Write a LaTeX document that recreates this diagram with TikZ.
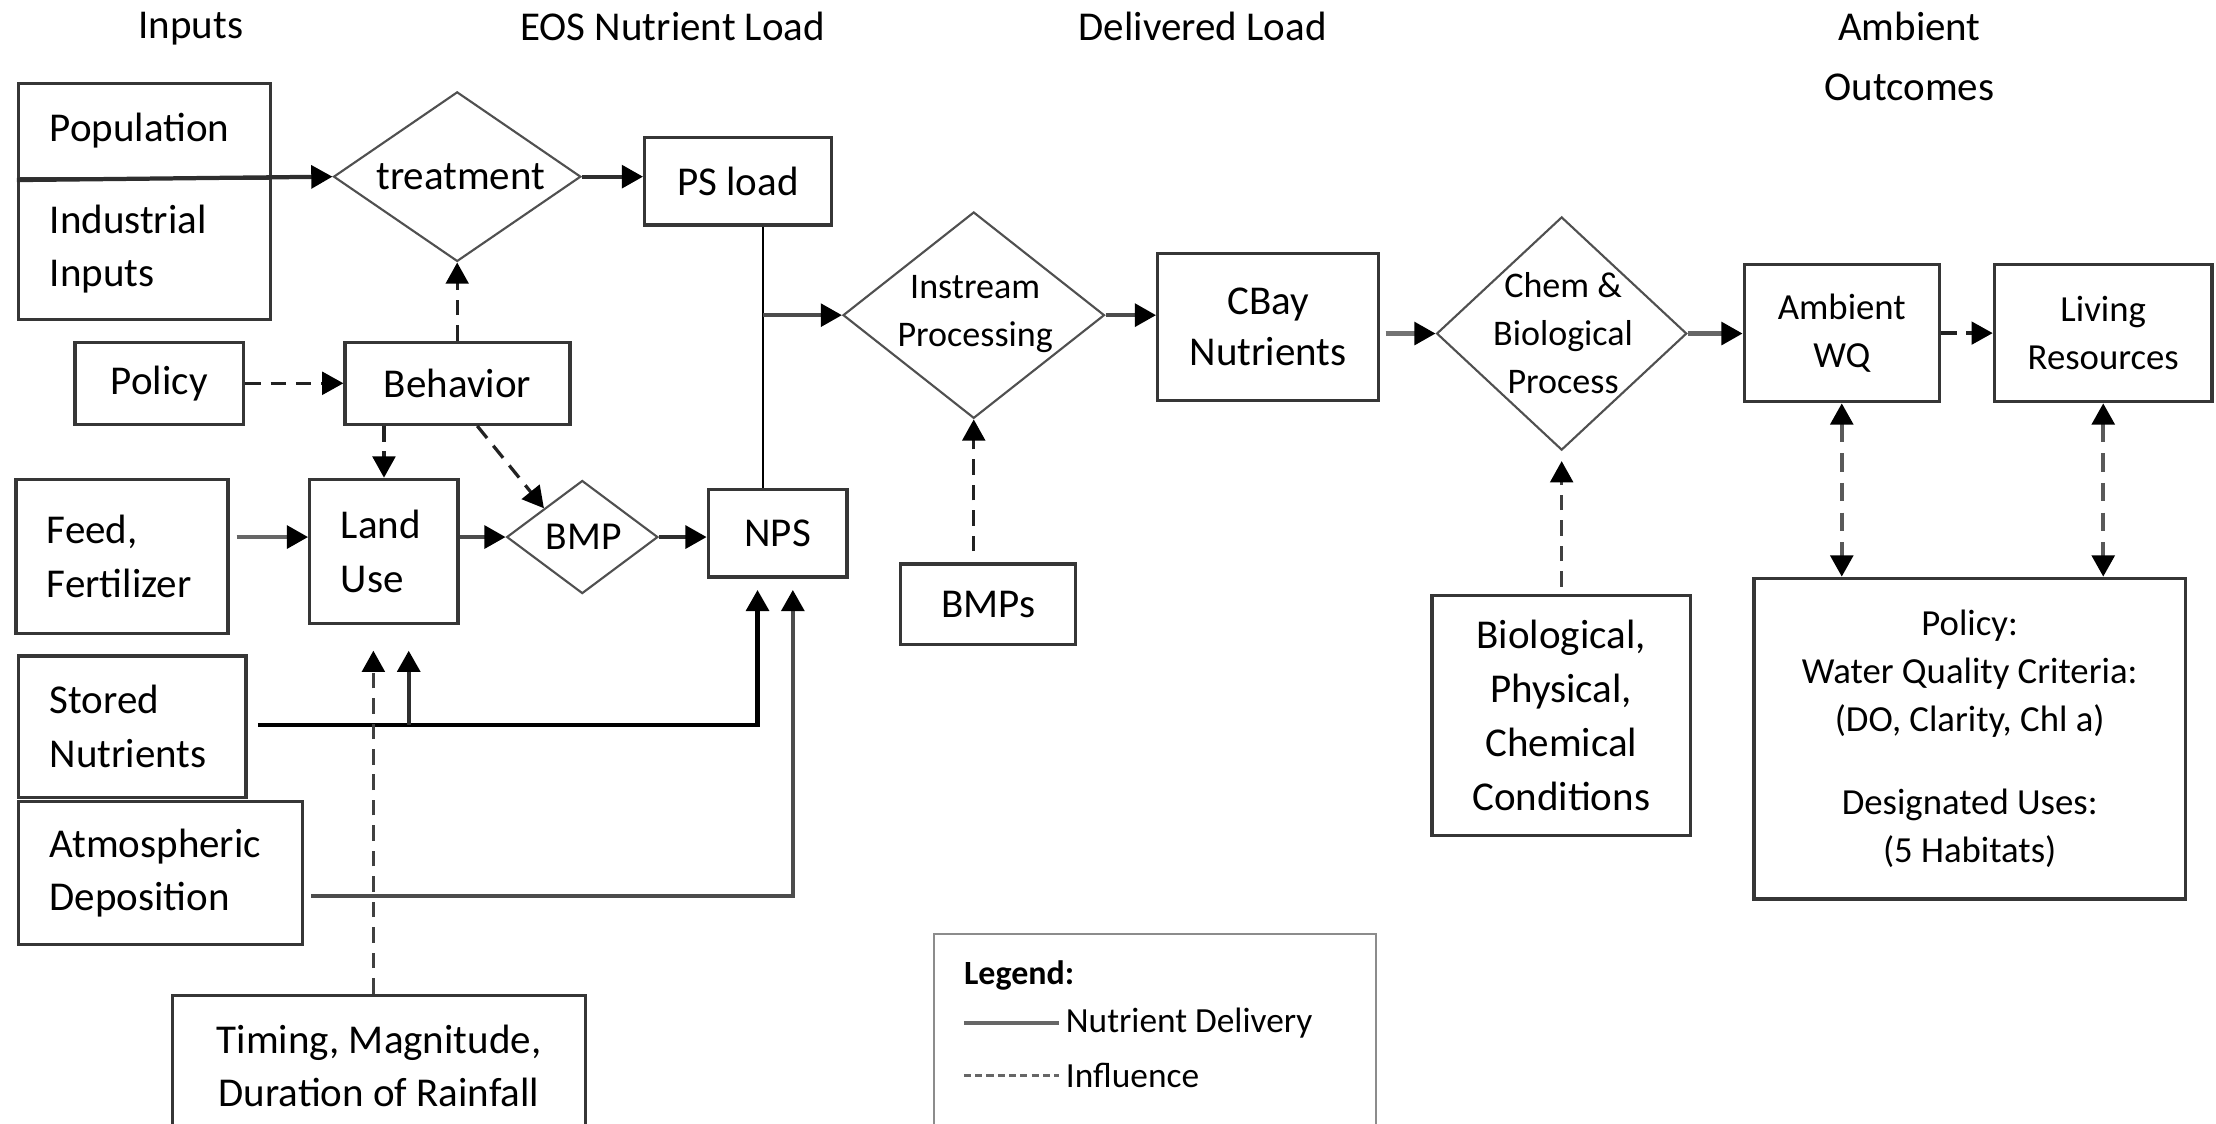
\documentclass[tikz,border=0pt]{standalone}
\usepackage{fontspec}
\setmainfont{Carlito}
\usetikzlibrary{shapes.geometric,arrows.meta,calc}
\definecolor{edgec}{HTML}{363636}
\definecolor{diac}{HTML}{505050}
\definecolor{flowc}{HTML}{2E2E2E}
\definecolor{dashc}{HTML}{222222}
\begin{document}
\begin{tikzpicture}[x=1pt,y=-1pt,
  box/.style={draw=edgec, line width=2.4pt, inner sep=0pt, anchor=north west, font=\fontsize{29}{38}\selectfont},
  lbox/.style={box, align=left, inner xsep=22pt},
  cbox/.style={box, align=center},
  dia/.style={draw=diac, line width=1.5pt, shape=diamond, inner sep=0pt},
  dtext/.style={font=\fontsize{25.5}{34}\selectfont, align=center, inner sep=0pt},
  hdr/.style={font=\fontsize{29}{42}\selectfont, align=center, inner sep=0pt},
  tipA/.tip={Triangle[length=15pt,width=16pt,color=black]},
  flow/.style={draw=flowc, line width=3pt, -tipA},
  flowline/.style={draw=black, line width=1.8pt},
  infl/.style={draw=dashc, line width=2.3pt, dash pattern=on 11pt off 7pt, -tipA},
  infl2/.style={infl, draw=black!65, line width=2.6pt, dash pattern=on 13pt off 8pt, tipA-tipA},
]
\useasboundingbox (0,0) rectangle (1568,795);

% headers
\node[hdr] (h1) at (135,20) {Inputs};
\node[hdr] (h2) at (476,19) {EOS Nutrient Load};
\node[hdr] (h3) at (851,19) {Delivered Load};
\node[hdr] (h4) at (1351,40) {Ambient\\Outcomes};

% inputs
\node[lbox, minimum width=178pt, minimum height=67pt, text width=134pt] (pop) at (12,58) {Population};
\node[lbox, minimum width=178pt, minimum height=100pt, text width=134pt] (ind) at (12,125) {Industrial\\Inputs};
\node[cbox, minimum width=119pt, minimum height=58pt] (pol) at (52,241) {Policy};
\node[lbox, minimum width=150pt, minimum height=109pt, text width=106pt] (feed) at (10,338) {Feed,\\Fertilizer};
\node[lbox, minimum width=161pt, minimum height=100pt, text width=117pt] (stor) at (12,463) {Stored\\Nutrients};
\node[lbox, minimum width=201pt, minimum height=101pt, text width=157pt] (atm) at (12,566) {Atmospheric\\Deposition};
\node[cbox, minimum width=292pt, minimum height=100pt] (tim) at (121,703) {Timing, Magnitude,\\Duration of Rainfall};

% EOS
\node[dia, minimum width=175pt, minimum height=120pt] (treat) at (323.5,125) {};
\node[dtext, font=\fontsize{29}{38}\selectfont] (treatT) at (326,125) {treatment};
\node[cbox, minimum width=132pt, minimum height=62pt] (psl) at (455,96) {PS load};
\node[cbox, minimum width=159pt, minimum height=58pt] (beh) at (243,241) {Behavior};
\node[lbox, minimum width=105pt, minimum height=102pt, text width=61pt] (land) at (218,338) {Land\\Use};
\node[dia, minimum width=107pt, minimum height=80pt] (bmp) at (412,380) {};
\node[dtext, font=\fontsize{28}{34}\selectfont] (bmpT) at (413,380) {BMP};
\node[cbox, minimum width=98pt, minimum height=62pt] (nps) at (500,345) {NPS};

% delivered
\node[dia, minimum width=185pt, minimum height=146pt] (inst) at (689,223) {};
\node[dtext] (instT) at (690,222) {Instream\\Processing};
\node[cbox, minimum width=124pt, minimum height=57pt] (bmps) at (636,398) {BMPs};
\node[cbox, minimum width=156pt, minimum height=104pt, font=\fontsize{29}{36}\selectfont] (cbay) at (818,178) {CBay\\Nutrients};
\node[dia, minimum width=177pt, minimum height=165pt] (chem) at (1105,236) {};
\node[dtext] (chemT) at (1106,236) {Chem \&\\Biological\\Process};
\node[cbox, minimum width=183pt, minimum height=170pt] (bio) at (1012,420) {Biological,\\Physical,\\Chemical\\Conditions};

% ambient
\node[cbox, minimum width=138pt, minimum height=97pt, font=\fontsize{26}{34}\selectfont] (amb) at (1233,186) {Ambient\\WQ};
\node[cbox, minimum width=154pt, minimum height=97pt, font=\fontsize{26}{34}\selectfont] (liv) at (1410,186) {Living\\Resources};
\node[cbox, minimum width=305pt, minimum height=227pt, font=\fontsize{26}{34}\selectfont] (polb) at (1240,408)
  {Policy:\\Water Quality Criteria:\\(DO, Clarity, Chl a)\\[25pt]Designated Uses:\\(5 Habitats)};

% legend
\node[draw=black!45, line width=1.5pt, anchor=north west, minimum width=313pt, minimum height=140pt, inner sep=0pt] (leg) at (660,660) {};
\node[anchor=west, inner sep=0pt, font=\bfseries\fontsize{24}{30}\selectfont] (legT) at (682,690) {Legend:};
\coordinate (l1a) at (682,724);
\coordinate (l1b) at (749,724);
\coordinate (l2a) at (682,761);
\coordinate (l2b) at (749,761);
\draw[draw=black!60, line width=3pt] (l1a) -- (l1b);
\draw[draw=black!60, line width=1.5pt, dash pattern=on 5pt off 3pt] (l2a) -- (l2b);
\node[anchor=west, inner sep=0pt, font=\fontsize{25}{30}\selectfont] (legN) at (754,724) {Nutrient Delivery};
\node[anchor=west, inner sep=0pt, font=\fontsize{25}{30}\selectfont] (legI) at (754,761) {Influence};

% connectors
\draw[flow] (pop.south west) -- (treat.west);
\draw[flow] (treat.east) -- (psl.west |- treat.east);
\draw[infl] (pol.east) -- (beh.west);
\draw[infl] (beh.north -| treat.south) -- (treat.south);
\draw[infl] (land.north |- beh.south) -- (land.north);
\draw[infl] ([xshift=14pt]beh.south) -- (bmp.north west);
\draw[flow, draw=black!60, shorten <=5pt] (feed.east |- bmp.west) -- (land.west |- bmp.west);
\draw[flow, draw=black!70] (land.east |- bmp.west) -- (bmp.west);
\draw[flow] (bmp.east) -- (nps.west |- bmp.east);
\coordinate (jx) at (540,223);
\draw[flowline] (psl.south -| jx) -- (nps.north -| jx);
\draw[flow, draw=black!70] (jx) -- (inst.west);
\coordinate (sx) at (536,513);
\draw[flow, line width=3.2pt, draw=black, shorten >=8pt] ([xshift=7pt]stor.east |- sx) -- (sx) -- (nps.south -| sx);
\draw[flow, shorten >=18pt] ([xshift=17.5pt]land.south |- sx) -- ([xshift=17.5pt]land.south);
\coordinate (ax) at (561,634);
\draw[flow, draw=black!70, shorten >=8pt] ([xshift=5pt]atm.east |- ax) -- (ax) -- (nps.south -| ax);
\draw[infl, draw=black!75, shorten >=18pt] ([xshift=-4pt]tim.north) -- ([xshift=-7.5pt]land.south);
\draw[flow, draw=black!70] (inst.east) -- (cbay.west |- inst.east);
\draw[infl, shorten <=8pt] (bmps.north -| inst.south) -- (inst.south);
\draw[flow, draw=black!55, shorten <=4pt] (cbay.east |- chem.west) -- (chem.west);
\draw[infl, draw=black!75, shorten <=5pt, shorten >=7pt] (bio.north -| chem.south) -- (chem.south);
\draw[flow, draw=black!60] (chem.east) -- (amb.west |- chem.east);
\draw[infl] (amb.east) -- (liv.west);
\draw[infl2] (amb.south) -- (polb.north -| amb.south);
\draw[infl2] (liv.south) -- (polb.north -| liv.south);
\end{tikzpicture}
\end{document}
